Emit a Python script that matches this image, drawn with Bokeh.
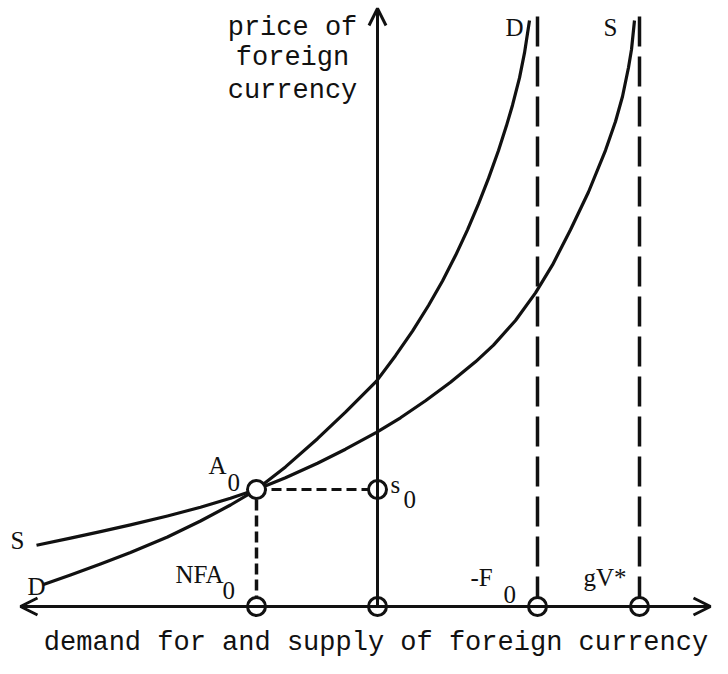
from bokeh.plotting import figure
from bokeh.models import Arrow, OpenHead, Range1d
from bokeh.core.properties import value
from bokeh.embed import file_html
from bokeh.resources import INLINE

# ---- data (quantity on x, price on y; origin where the axes cross) ----
d_x = [-33.4, -30.7, -27.7, -24.7, -21.0, -17.7, -14.7, -12.1, -9.2, -6.0, -3.2, -0.1,
       1.8, 3.5, 5.1, 6.5, 7.8, 9.0, 10.1, 11.1, 12.1, 12.9, 13.5, 14.2, 14.7, 15.2]
d_y = [2.20, 3.15, 4.25, 5.40, 6.95, 8.55, 10.15, 11.70, 13.96, 16.78, 19.44, 22.54,
       25.08, 27.54, 30.10, 32.55, 35.09, 37.67, 40.26, 42.81, 45.60, 48.09, 50.13, 52.86, 55.36, 58.60]
s_x = [-34.1, -30.7, -27.7, -24.7, -21.0, -17.7, -14.7, -12.1, -9.2, -6.0, -3.2, -0.1,
       2.3, 4.8, 7.3, 9.8, 11.6, 13.8, 15.8, 17.5, 19.3, 21.1, 22.8, 23.8, 24.5, 25.1, 25.4, 25.7]
s_y = [6.12, 6.84, 7.49, 8.16, 9.05, 9.92, 10.82, 11.70, 12.87, 14.33, 15.73, 17.42,
       18.87, 20.57, 22.42, 24.47, 26.14, 28.60, 31.36, 34.16, 37.67, 41.45, 45.62, 48.50,
       51.00, 53.90, 55.70, 58.60]

nfa0 = -12.1      # NFA_0
s0 = 11.7         # s_0 (price level at A_0)
neg_f0 = 16.0     # -F_0
gv_star = 26.2    # gV*
asymptote_top = 59.1

axis_left = -35.7
axis_right = 33.3
axis_top = 59.8

x_label = "demand for and supply of foreign currency"
y_label = ["price of", "foreign", "currency"]

# ---- figure ----
p = figure(width=712, height=658, x_range=Range1d(-37.7, 33.5), y_range=Range1d(-5.2, 60.6),
           output_backend="svg", toolbar_location=None, min_border=0,
           x_axis_location=None, y_axis_location=None)
p.grid.visible = False
p.outline_line_color = None
p.background_fill_color = "white"
p.border_fill_color = "white"

BLACK = "#111111"

# axes with arrow heads
p.add_layout(Arrow(start=OpenHead(size=17, line_width=3, line_color=BLACK),
                   end=OpenHead(size=17, line_width=3, line_color=BLACK),
                   x_start=axis_left, y_start=0, x_end=axis_right, y_end=0,
                   line_width=3, line_color=BLACK))
p.add_layout(Arrow(end=OpenHead(size=17, line_width=3, line_color=BLACK),
                   x_start=0, y_start=0, x_end=0, y_end=axis_top,
                   line_width=3, line_color=BLACK))

# asymptotes (long dashes)
for xv in [neg_f0, gv_star]:
    p.line([xv, xv], [0, asymptote_top], line_width=3.5, line_color=BLACK, line_dash="30 10")

# A0 projections (short dashes)
p.line([nfa0, 0], [s0, s0], line_width=3, line_color=BLACK, line_dash="10 5")
p.line([nfa0, nfa0], [0, s0], line_width=3.5, line_color=BLACK, line_dash="11 5")

# curves
p.line(d_x, d_y, line_width=3.2, line_color=BLACK, line_join="round")
p.line(s_x, s_y, line_width=3.2, line_color=BLACK, line_join="round")

# circles
cx = [nfa0, 0, neg_f0, gv_star, nfa0, 0]
cy = [0, 0, 0, 0, s0, s0]
p.scatter(cx, cy, size=18, marker="circle", fill_color="white", line_color=BLACK, line_width=3)

# ---- texts ----
serif = value("Liberation Serif")
mono = value("Liberation Mono")
SHIFT = 0.85   # baseline correction (data units)

def lab(x, y, t, size="25px", font=serif, align="left", shift=SHIFT):
    p.text(x=[x], y=[y + shift], text=[t], text_font=font, text_font_size=size,
           text_align=align, text_baseline="alphabetic", text_color=BLACK)

lab(d_x[-1] - 2.4, 57.1, "D")
lab(s_x[-1] - 3.1, 57.1, "S")
lab(-36.7, 5.8, "S")
lab(-35.0, 1.2, "D")
lab(nfa0 - 4.8, 13.3, "A")
lab(nfa0 - 2.9, 11.6, "0")
lab(1.3, s0 - 0.3, "s")
lab(2.6, s0 - 1.8, "0")
lab(nfa0 - 8.1, 2.4, "NFA")
lab(nfa0 - 3.4, 0.8, "0")
lab(neg_f0 - 6.7, 2.1, "-F")
lab(neg_f0 - 3.4, 0.4, "0")
lab(gv_star - 5.6, 2.1, "gV*")

for i, t in enumerate(y_label):
    lab(-8.5, [57.2, 54.2, 50.9][i], t, size="27px", font=mono, align="center", shift=0.65)
lab(-0.15, -4.4, x_label, size="27px", font=mono, align="center", shift=0.8)

open("out.html", "w").write(file_html(p, INLINE))
